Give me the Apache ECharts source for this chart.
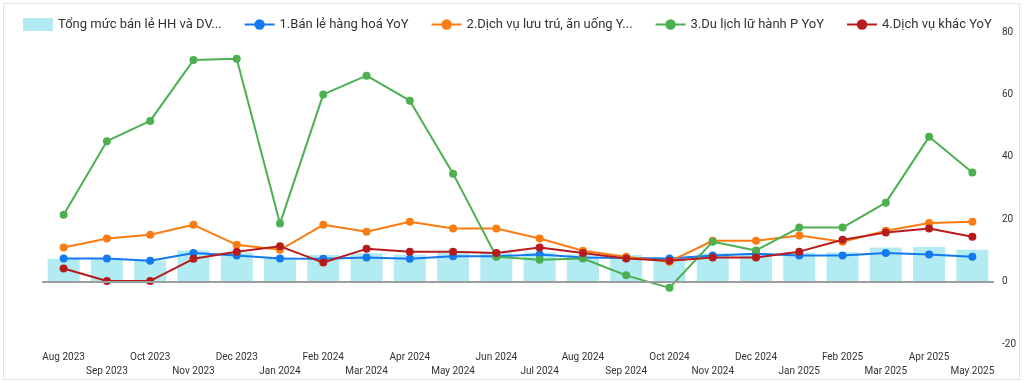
<!DOCTYPE html>
<html><head><meta charset="utf-8">
<script src="https://cdn.jsdelivr.net/npm/echarts@6/dist/echarts.min.js"></script>
<style>
html,body{margin:0;padding:0;background:#fff;}
#c{position:absolute;left:3px;top:3px;width:1017px;height:377px;border:1px solid #e3e3e3;box-sizing:border-box;}
</style></head>
<body><div id="c"></div>
<script>
const categories = ['Aug 2023','Sep 2023','Oct 2023','Nov 2023','Dec 2023','Jan 2024','Feb 2024','Mar 2024','Apr 2024','May 2024','Jun 2024','Jul 2024','Aug 2024','Sep 2024','Oct 2024','Nov 2024','Dec 2024','Jan 2025','Feb 2025','Mar 2025','Apr 2025','May 2025'];
const totalRetail = [7.3,7.3,6.8,10.0,9.3,7.7,8.5,9.1,8.6,9.3,9.3,9.3,8.7,8.5,7.5,9.1,9.1,9.3,9.4,10.9,11.1,10.2];
const goodsRetail = [7.4,7.4,6.7,9.2,8.4,7.4,7.3,7.7,7.3,8.1,8.1,8.7,7.7,7.6,7.4,8.4,8.9,8.4,8.4,9.2,8.7,8.0];
const accommodation = [10.9,13.8,15.0,18.2,11.8,10.2,18.2,16.0,19.2,17.0,17.0,13.8,9.9,8.0,6.4,13.1,13.1,14.8,12.8,16.3,18.8,19.2];
const travel = [21.4,45.0,51.5,71.0,71.4,18.6,60.0,66.0,58.0,34.6,8.0,7.0,7.4,2.0,-2.0,12.8,10.0,17.3,17.3,25.3,46.4,35.0];
const otherServices = [4.2,0.2,0.2,7.3,9.6,11.3,6.1,10.5,9.6,9.6,9.2,10.9,9.2,7.4,6.7,7.7,7.7,9.6,13.4,15.7,17.0,14.4];
const seriesNames = ['Tổng mức bán lẻ HH và DV YoY','1.Bán lẻ hàng hoá YoY','2.Dịch vụ lưu trú, ăn uống YoY','3.Du lịch lữ hành P YoY','4.Dịch vụ khác YoY'];
const legendLabels = ['Tổng mức bán lẻ HH và DV...','1.Bán lẻ hàng hoá YoY','2.Dịch vụ lưu trú, ăn uống Y...','3.Du lịch lữ hành P YoY','4.Dịch vụ khác YoY'];
const yTicks = {min:-20, max:80, interval:20};

const font = 'Roboto, "Noto Sans", sans-serif';
const chart = echarts.init(document.getElementById('c'));
function lineSeries(name, data, color){
  return {name, type:'line', data, symbol:'circle', symbolSize:8, showSymbol:true,
    lineStyle:{color, width:2}, itemStyle:{color}, emphasis:{disabled:true}};
}
chart.setOption({
  animation:false,
  textStyle:{fontFamily:font},
  legend:{left:14, top:9, itemGap:22, itemWidth:30, itemHeight:13,
    textStyle:{fontSize:13, color:'#333', fontFamily:font},
    formatter:n=>legendLabels[seriesNames.indexOf(n)],
    data:[{name:seriesNames[0], icon:'rect'}, seriesNames[1], seriesNames[2], seriesNames[3], seriesNames[4]]},
  grid:{left:38, right:21, top:28, bottom:35},
  xAxis:{type:'category', data:categories, boundaryGap:true,
    axisLine:{show:false, onZero:false}, axisTick:{show:false},
    axisLabel:{interval:0, fontSize:10, color:'#333', margin:6, lineHeight:14, fontFamily:font,
      formatter:(v,i)=> i%2===1 ? '\n'+v : v}},
  yAxis:{type:'value', position:'right', min:yTicks.min, max:yTicks.max, interval:yTicks.interval,
    splitLine:{show:false}, axisLine:{show:false}, axisTick:{show:false},
    axisLabel:{fontSize:10, color:'#333', margin:8, fontFamily:font}},
  series:[
    {name:seriesNames[0], type:'bar', data:totalRetail, barWidth:'74%', itemStyle:{color:'#b2ebf2'},
      emphasis:{disabled:true},
      markLine:{silent:true, symbol:'none', label:{show:false}, lineStyle:{color:'#9e9e9e', width:2, type:'solid'}, data:[{yAxis:0}]}},
    lineSeries(seriesNames[1], goodsRetail, '#1479f0'),
    lineSeries(seriesNames[2], accommodation, '#fb7c12'),
    lineSeries(seriesNames[3], travel, '#4caf50'),
    lineSeries(seriesNames[4], otherServices, '#b71c1c')
  ]
});
</script></body></html>
